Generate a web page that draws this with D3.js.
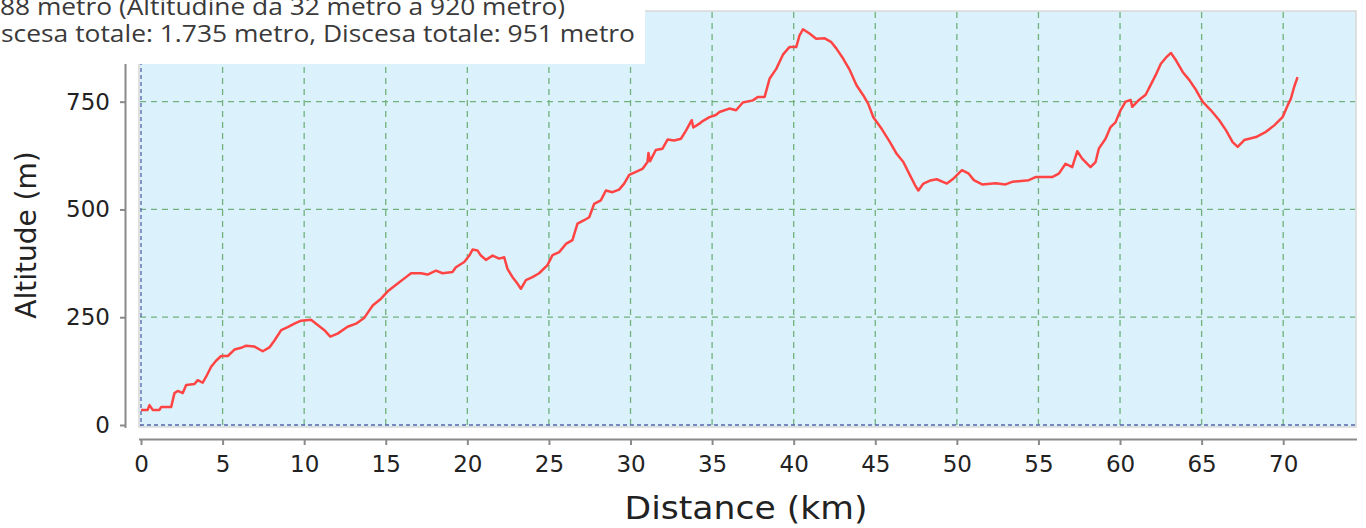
<!DOCTYPE html>
<html><head><meta charset="utf-8">
<script src="https://cdn.jsdelivr.net/npm/d3@7"></script>
<style>
html,body{margin:0;padding:0;background:#fff;overflow:hidden;}
svg{display:block;}
</style></head>
<body>
<svg id="chart" width="1366" height="528"></svg>
<script>
const distanceKm = [0.0,0.4,0.52,0.72,1.13,1.24,1.85,2.05,2.25,2.56,2.77,3.28,3.48,3.78,3.99,4.3,4.6,4.91,5.32,5.73,6.14,6.44,6.95,7.46,7.87,8.18,8.59,8.99,9.4,9.81,10.42,10.83,11.24,11.6,12.05,12.66,13.18,13.69,14.2,14.71,15.12,15.73,16.24,16.55,17.16,17.56,18.08,18.48,19.09,19.3,19.81,20.12,20.32,20.62,20.83,21.14,21.55,21.95,22.26,22.46,22.77,23.07,23.28,23.59,23.99,24.4,24.91,25.22,25.63,26.04,26.44,26.75,27.16,27.47,27.77,28.18,28.49,28.89,29.3,29.61,29.92,30.33,30.73,31.04,31.1,31.2,31.55,31.96,32.27,32.68,33.09,33.4,33.75,33.85,34.22,34.42,34.84,35.23,35.45,36.06,36.47,36.88,37.5,37.8,38.22,38.52,38.93,39.34,39.75,40.16,40.36,40.57,40.97,41.38,41.9,42.31,42.62,43.03,43.44,43.85,44.26,44.57,44.88,45.39,45.9,46.31,46.72,47.13,47.44,47.64,47.95,48.36,48.77,49.39,49.8,50.31,50.73,51.04,51.55,52.37,52.98,53.39,54.41,54.82,55.84,56.25,56.66,57.07,57.38,57.68,58.19,58.5,58.7,59.11,59.42,59.72,60.03,60.34,60.65,60.75,61.16,61.57,61.88,62.19,62.5,62.81,63.12,63.43,63.84,64.25,64.66,65.06,65.57,66.08,66.49,66.9,67.21,67.61,68.33,68.94,69.45,69.96,70.27,70.47,70.67,70.88];
const altitudeM = [35,35,46,35,35,42,42,74,79,74,93,95,104,98,112,135,149,160,160,175,179,184,182,171,180,196,220,227,235,242,244,232,220,205,212,228,235,249,277,293,310,328,343,352,352,349,358,352,355,366,378,393,407,405,393,383,393,386,389,362,343,328,316,336,343,352,371,394,401,420,429,467,475,482,513,521,544,540,546,560,580,587,594,610,631,612,638,641,662,660,664,683,707,690,699,705,714,719,726,734,730,748,753,761,761,803,826,859,877,877,904,918,908,896,897,888,873,850,823,788,765,745,714,687,656,629,610,579,556,544,560,567,570,560,572,591,583,568,558,561,558,564,568,575,575,583,606,598,635,618,598,610,641,664,691,702,730,750,754,738,754,766,789,812,838,852,863,846,819,800,777,750,730,707,684,656,645,661,668,680,695,714,741,757,784,807];
const xTicks = [0,5,10,15,20,25,30,35,40,45,50,55,60,65,70];
const yTicks = [0,250,500,750];
const xTitle = "Distance (km)";
const yTitle = "Altitude (m)";
const infoLines = ["88 metro (Altitudine da 32 metro a 920 metro)",
                   "scesa totale: 1.735 metro, Discesa totale: 951 metro"];

const svg = d3.select("#chart");
const x = d3.scaleLinear().domain([0, 74.4]).range([141, 1355]);
const y = d3.scaleLinear().domain([0, 958]).range([425, 12]);

// plot background
svg.append("rect").attr("x",139).attr("y",11).attr("width",1217).attr("height",416)
  .attr("fill","#dbf1fc").attr("stroke","#d8d8d8").attr("stroke-width",1.5);

// grid
const grid = svg.append("g");
grid.selectAll(".vg").data(xTicks.filter(d=>d>0)).join("line")
  .attr("x1",d=>x(d)).attr("x2",d=>x(d)).attr("y1",12).attr("y2",426)
  .attr("stroke","#6fb27c").attr("stroke-width",1.3).attr("stroke-dasharray","6,5");
grid.selectAll(".hg").data(yTicks.filter(d=>d>0)).join("line")
  .attr("x1",140).attr("x2",1355).attr("y1",d=>y(d)).attr("y2",d=>y(d))
  .attr("stroke","#6fb27c").attr("stroke-width",1.3).attr("stroke-dasharray","6,5");
// zero baselines
grid.append("line").attr("x1",x(0)).attr("x2",x(0)).attr("y1",12).attr("y2",426)
  .attr("stroke","#5a64a8").attr("stroke-width",1.3).attr("stroke-dasharray","4,3");
grid.append("line").attr("x1",140).attr("x2",1355).attr("y1",y(0)).attr("y2",y(0))
  .attr("stroke","#5a64a8").attr("stroke-width",1.3).attr("stroke-dasharray","4,3");

// line
const pts = distanceKm.map((d,i)=>[d, altitudeM[i]]);
svg.append("path").datum(pts)
  .attr("d", d3.line().x(d=>x(d[0])).y(d=>y(d[1])))
  .attr("fill","none").attr("stroke","#ff4444").attr("stroke-width",2.5).attr("stroke-linejoin","round");

// axes
const xAxis = svg.append("g").attr("transform","translate(0,439)")
  .call(d3.axisBottom(x).tickValues(xTicks).tickSize(6).tickPadding(11).tickSizeOuter(0));
xAxis.select(".domain").attr("d","M139,0.5H1357").attr("stroke","#8a8a8a").attr("stroke-width",2);
const yAxis = svg.append("g").attr("transform","translate(126,0)")
  .call(d3.axisLeft(y).tickValues(yTicks).tickSize(6).tickPadding(10).tickSizeOuter(0));
yAxis.select(".domain").attr("d","M-0.5,11V428").attr("stroke","#8a8a8a").attr("stroke-width",2);
[xAxis,yAxis].forEach(a=>{
  a.selectAll(".tick line").attr("stroke","#8a8a8a").attr("stroke-width",2);
  a.selectAll(".tick text").attr("fill","#222").style("font-family","DejaVu Sans").style("font-size","23px");
});
xAxis.selectAll(".tick text").attr("dy","0.71em");

svg.append("text").attr("x",746).attr("y",519).attr("text-anchor","middle")
  .attr("textLength",243).attr("lengthAdjust","spacingAndGlyphs")
  .style("font-family","DejaVu Sans").style("font-size","32px").attr("fill","#222").text(xTitle);
svg.append("text").attr("transform","translate(36,235) rotate(-90)").attr("text-anchor","middle")
  .style("font-family","DejaVu Sans").style("font-size","28px").attr("fill","#222").text(yTitle);

// info overlay box
svg.append("rect").attr("x",0).attr("y",0).attr("width",645).attr("height",64).attr("fill","#fff");
const infoX = [0, 1], infoW = [565, 634], infoY = [15, 42];
infoLines.forEach((t,i)=>{
  svg.append("text").attr("x",infoX[i]).attr("y",infoY[i])
    .attr("textLength",infoW[i]).attr("lengthAdjust","spacingAndGlyphs")
    .style("font-family","Open Sans").style("font-size","23.5px").attr("fill","#3a3a3a").text(t);
});
</script>
</body></html>
